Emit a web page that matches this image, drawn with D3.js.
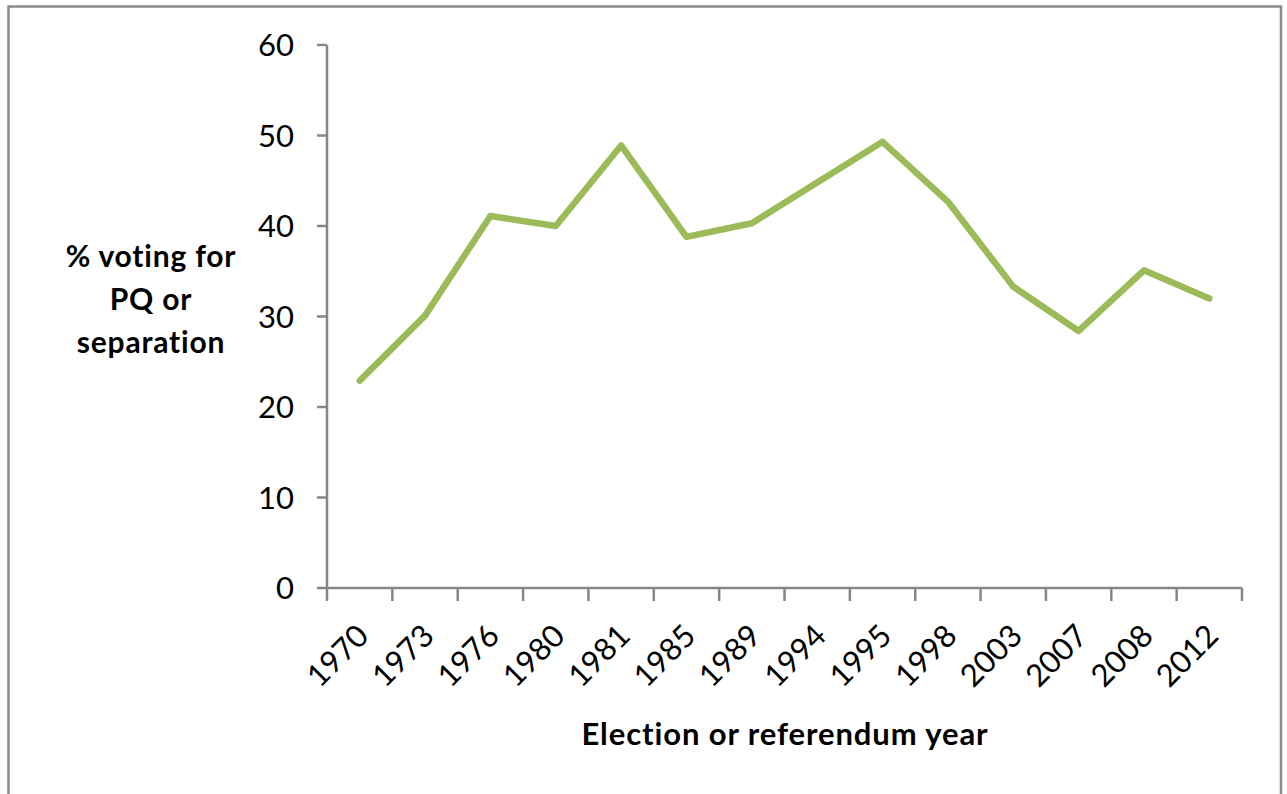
<!DOCTYPE html>
<html><head><meta charset="utf-8">
<script src="https://cdn.jsdelivr.net/npm/d3@7"></script>
<style>html,body{margin:0;padding:0;background:#fff;} svg{display:block;}</style>
</head><body>
<svg id="chart" width="1287" height="794"></svg>
<script>
const years = ["1970","1973","1976","1980","1981","1985","1989","1994","1995","1998","2003","2007","2008","2012"];
const values = [22.9, 30.1, 41.1, 40.0, 48.9, 38.8, 40.3, 44.8, 49.3, 42.7, 33.3, 28.4, 35.1, 32.0];
const yTicks = [0, 10, 20, 30, 40, 50, 60];
const yTitle = ["% voting for", "PQ or", "separation"];
const xTitle = "Election or referendum year";

(function () {
const svg = d3.select("#chart");
const font = "Lato, 'Open Sans', sans-serif";
const axisColor = "#868686";

svg.append("rect").attr("x", 8.5).attr("y", 6.5).attr("width", 1272.5).attr("height", 800)
  .attr("fill", "none").attr("stroke", "#8c8c8c").attr("stroke-width", 2.5);

const mLeft = 327, mRight = 1242, mTop = 45, mBottom = 588;
const x = d3.scaleBand().domain(years).range([mLeft, mRight]);
const y = d3.scaleLinear().domain([0, 60]).range([mBottom, mTop]);

// y axis
const yAxis = svg.append("g");
yAxis.append("line").attr("x1", mLeft).attr("x2", mLeft).attr("y1", y(60)).attr("y2", y(0))
  .attr("stroke", axisColor).attr("stroke-width", 2.5);
yAxis.selectAll("line.t").data(yTicks).enter().append("line").attr("class", "t")
  .attr("x1", mLeft - 10).attr("x2", mLeft).attr("y1", d => y(d)).attr("y2", d => y(d))
  .attr("stroke", axisColor).attr("stroke-width", 2.5);
yAxis.selectAll("text").data(yTicks).enter().append("text")
  .attr("x", 294).attr("y", d => y(d)).attr("dy", "0.36em")
  .attr("text-anchor", "end").attr("font-family", font).attr("font-size", 31).attr("fill", "#000")
  .text(d => d);

// x axis
const xAxis = svg.append("g");
xAxis.append("line").attr("x1", mLeft).attr("x2", mRight).attr("y1", mBottom).attr("y2", mBottom)
  .attr("stroke", axisColor).attr("stroke-width", 2.5);
const edges = years.map(d => x(d)).concat([mRight]);
xAxis.selectAll("line.t").data(edges).enter().append("line").attr("class", "t")
  .attr("x1", d => d).attr("x2", d => d).attr("y1", mBottom).attr("y2", mBottom + 13)
  .attr("stroke", axisColor).attr("stroke-width", 2.5);
xAxis.selectAll("text").data(years).enter().append("text")
  .attr("transform", d => `translate(${x(d) + x.bandwidth() / 2 + 3},${mBottom + 42}) rotate(-45)`)
  .attr("text-anchor", "end").attr("dy", "0.36em")
  .attr("font-family", font).attr("font-size", 31).attr("fill", "#000")
  .text(d => d);

// line
const line = d3.line().x((d, i) => x(years[i]) + x.bandwidth() / 2).y(d => y(d));
svg.append("path").datum(values).attr("d", line)
  .attr("fill", "none").attr("stroke", "#9BBB59").attr("stroke-width", 6.5)
  .attr("stroke-linejoin", "round").attr("stroke-linecap", "round");

// titles
svg.append("g").selectAll("text").data(yTitle).enter().append("text")
  .attr("x", 151).attr("y", (d, i) => 267 + i * 43)
  .attr("text-anchor", "middle").attr("font-family", font).attr("font-weight", "bold")
  .attr("font-size", 30).attr("letter-spacing", 0.8).attr("fill", "#000").text(d => d);
svg.append("text").attr("x", 785).attr("y", 745).attr("text-anchor", "middle")
  .attr("font-family", font).attr("font-weight", "bold").attr("font-size", 31)
  .attr("letter-spacing", 0.9).attr("fill", "#000")
  .text(xTitle);
})();
</script>
</body></html>
